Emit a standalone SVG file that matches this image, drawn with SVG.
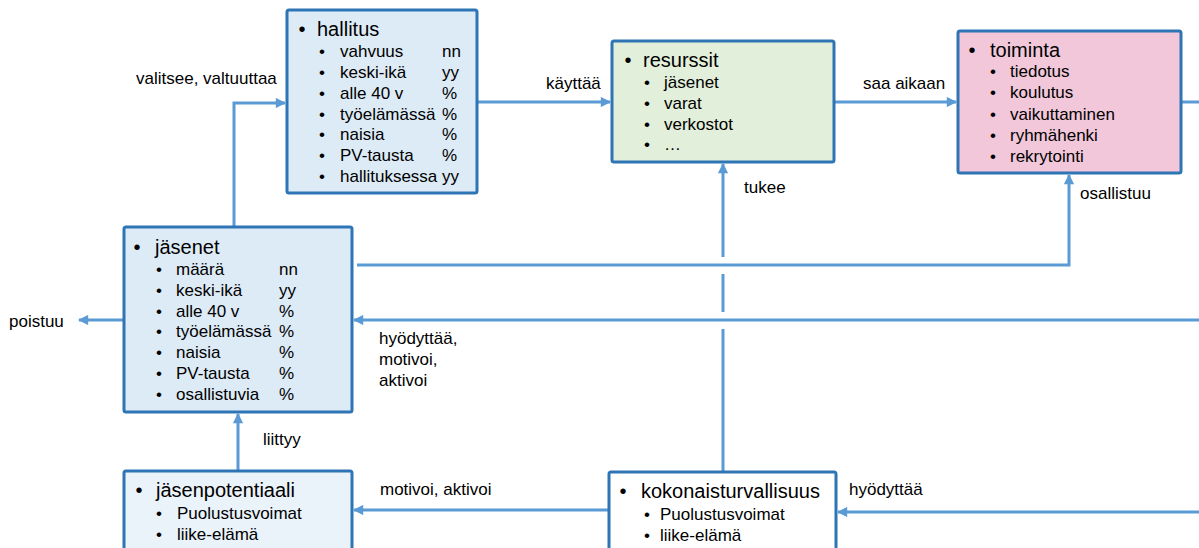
<svg xmlns="http://www.w3.org/2000/svg" width="1199" height="548" viewBox="0 0 1199 548">
<style>
.box{stroke:#2E75B6;stroke-width:3}
.c{fill:none;stroke:#5B9BD5;stroke-width:3}
text{font-family:"Liberation Sans",Arial,sans-serif;fill:#000}
.t{font-size:20px}
.s{font-size:17px}
.l{font-size:17px}
.b{text-anchor:middle}
</style>
<defs>
<marker id="ah" viewBox="0 0 10 10" refX="9" refY="5" markerWidth="3.8" markerHeight="3.4" orient="auto" markerUnits="strokeWidth">
<path d="M0 0 L10 5 L0 10 z" fill="#5B9BD5"/>
</marker>
</defs>
<rect width="1199" height="548" fill="#fff"/>

<g id="connectors">
<path class="c" d="M234 227 V103 H285" marker-end="url(#ah)"/>
<path class="c" d="M477 102 H610" marker-end="url(#ah)"/>
<path class="c" d="M834 102 H956" marker-end="url(#ah)"/>
<path class="c" d="M1181 102 H1199"/>
<path class="c" d="M357 265 H1069 V175" marker-end="url(#ah)"/>
<path class="c" d="M1199 320 H354" marker-end="url(#ah)"/>
<path class="c" d="M124 320 H79" marker-end="url(#ah)"/>
<path class="c" d="M238 471 V414" marker-end="url(#ah)"/>
<path class="c" d="M609 510 H354" marker-end="url(#ah)"/>
<path class="c" d="M723 472 V329 M723 312 V274 M723 257 V164" marker-end="url(#ah)"/>
<path class="c" d="M1199 512 H838" marker-end="url(#ah)"/>
<text class="l" x="136" y="84">valitsee, valtuuttaa</text>
<text class="l" x="546" y="89">käyttää</text>
<text class="l" x="863" y="89">saa aikaan</text>
<text class="l" x="744" y="193">tukee</text>
<text class="l" x="1080" y="199">osallistuu</text>
<text class="l" x="9" y="327">poistuu</text>
<text class="l" x="379" y="344">hyödyttää,</text>
<text class="l" x="379" y="365">motivoi,</text>
<text class="l" x="379" y="386">aktivoi</text>
<text class="l" x="263" y="445">liittyy</text>
<text class="l" x="380" y="495">motivoi, aktivoi</text>
<text class="l" x="849" y="495">hyödyttää</text>
</g>

<g id="hallitus">
<rect class="box" x="287" y="10" width="190" height="183" rx="2" fill="#DDEBF7"/>
<text class="t b" x="302" y="36">•</text><text class="t" x="317" y="36">hallitus</text>
<text class="s b" x="322" y="57">•</text><text class="s" x="340" y="57">vahvuus</text><text class="s" x="442" y="57">nn</text>
<text class="s b" x="322" y="78">•</text><text class="s" x="340" y="78">keski-ikä</text><text class="s" x="442" y="78">yy</text>
<text class="s b" x="322" y="99">•</text><text class="s" x="340" y="99">alle 40 v</text><text class="s" x="442" y="99">%</text>
<text class="s b" x="322" y="120">•</text><text class="s" x="340" y="120">työelämässä</text><text class="s" x="442" y="120">%</text>
<text class="s b" x="322" y="140">•</text><text class="s" x="340" y="140">naisia</text><text class="s" x="442" y="140">%</text>
<text class="s b" x="322" y="161">•</text><text class="s" x="340" y="161">PV-tausta</text><text class="s" x="442" y="161">%</text>
<text class="s b" x="322" y="182">•</text><text class="s" x="340" y="182">hallituksessa</text><text class="s" x="442" y="182">yy</text>
</g>

<g id="resurssit">
<rect class="box" x="612" y="41" width="222" height="121" rx="2" fill="#E2EFDA"/>
<text class="t b" x="628" y="67">•</text><text class="t" x="643" y="67">resurssit</text>
<text class="s b" x="647" y="88">•</text><text class="s" x="664" y="88">jäsenet</text>
<text class="s b" x="647" y="109">•</text><text class="s" x="664" y="109">varat</text>
<text class="s b" x="647" y="130">•</text><text class="s" x="664" y="130">verkostot</text>
<text class="s b" x="647" y="150">•</text><text class="s" x="664" y="150">…</text>
</g>

<g id="toiminta">
<rect class="box" x="958" y="31" width="223" height="142" rx="2" fill="#F2C7DA"/>
<text class="t b" x="972" y="57">•</text><text class="t" x="990" y="57">toiminta</text>
<text class="s b" x="993" y="77">•</text><text class="s" x="1010" y="77">tiedotus</text>
<text class="s b" x="993" y="98">•</text><text class="s" x="1010" y="98">koulutus</text>
<text class="s b" x="993" y="120">•</text><text class="s" x="1010" y="120">vaikuttaminen</text>
<text class="s b" x="993" y="141">•</text><text class="s" x="1010" y="141">ryhmähenki</text>
<text class="s b" x="993" y="162">•</text><text class="s" x="1010" y="162">rekrytointi</text>
</g>

<g id="jasenet">
<rect class="box" x="124" y="227" width="228" height="185" rx="2" fill="#DDEBF7"/>
<text class="t b" x="137" y="254">•</text><text class="t" x="155" y="254">jäsenet</text>
<text class="s b" x="159" y="275">•</text><text class="s" x="176" y="275">määrä</text><text class="s" x="279" y="275">nn</text>
<text class="s b" x="159" y="296">•</text><text class="s" x="176" y="296">keski-ikä</text><text class="s" x="279" y="296">yy</text>
<text class="s b" x="159" y="317">•</text><text class="s" x="176" y="317">alle 40 v</text><text class="s" x="279" y="317">%</text>
<text class="s b" x="159" y="337">•</text><text class="s" x="176" y="337">työelämässä</text><text class="s" x="279" y="337">%</text>
<text class="s b" x="159" y="358">•</text><text class="s" x="176" y="358">naisia</text><text class="s" x="279" y="358">%</text>
<text class="s b" x="159" y="379">•</text><text class="s" x="176" y="379">PV-tausta</text><text class="s" x="279" y="379">%</text>
<text class="s b" x="159" y="400">•</text><text class="s" x="176" y="400">osallistuvia</text><text class="s" x="279" y="400">%</text>
</g>

<g id="jasenpotentiaali">
<rect class="box" x="124" y="471" width="228" height="95" rx="2" fill="#EAF2FA"/>
<text class="t b" x="139" y="497">•</text><text class="t" x="156" y="497">jäsenpotentiaali</text>
<text class="s b" x="159" y="519">•</text><text class="s" x="177" y="519">Puolustusvoimat</text>
<text class="s b" x="159" y="540">•</text><text class="s" x="177" y="540">liike-elämä</text>
</g>

<g id="kokonaisturvallisuus">
<rect class="box" x="609" y="472" width="227" height="95" rx="2" fill="#FFFFFF"/>
<text class="t b" x="623" y="498">•</text><text class="t" x="641" y="498">kokonaisturvallisuus</text>
<text class="s b" x="647" y="520">•</text><text class="s" x="660" y="520">Puolustusvoimat</text>
<text class="s b" x="647" y="541">•</text><text class="s" x="660" y="541">liike-elämä</text>
</g>
</svg>
